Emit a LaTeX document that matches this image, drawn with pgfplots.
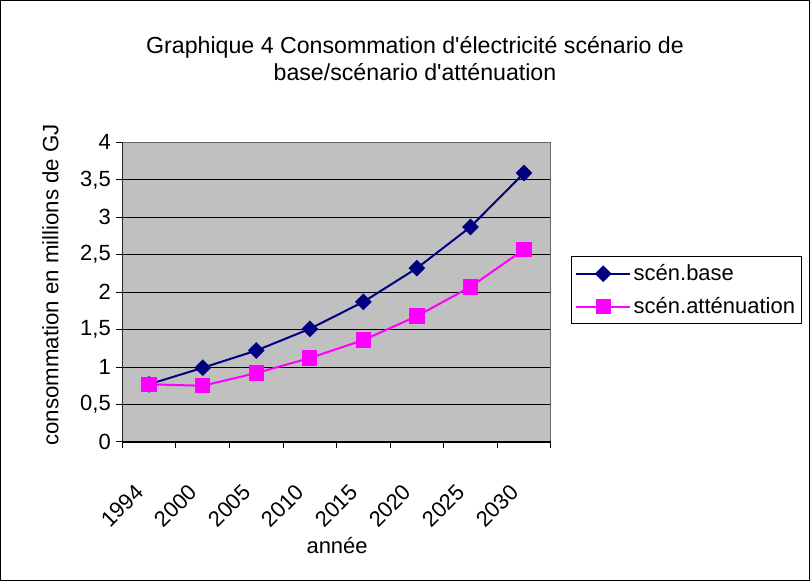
\documentclass[border=0pt]{standalone}
\usepackage{pgfplots}
\pgfplotsset{compat=1.18}
\usepackage{fontspec}
\setmainfont{Liberation Sans}
\definecolor{navyc}{HTML}{000080}
\definecolor{magc}{HTML}{FF00FF}
\definecolor{bgc}{HTML}{C0C0C0}
\begin{document}
\begin{tikzpicture}[x=1pt,y=1pt]
\draw[black, line width=0.75pt] (-91.5,-104.25) rectangle (516,331.5);
\begin{axis}[at={(0,0)}, anchor=south west, scale only axis,
 width=321.75pt, height=225pt,
 font=\fontsize{16.5}{19}\selectfont,
 xmin=-0.5, xmax=7.5, ymin=0, ymax=4,
 ytick={0,0.5,...,4},
 yticklabel style={/pgf/number format/use comma, /pgf/number format/assume math mode=true, inner sep=2pt, xshift=-2pt},
 /pgf/number format/assume math mode=true,
 xtick={0,...,7},
 xticklabels={1994,2000,2005,2010,2015,2020,2025,2030},
 minor xtick={-0.5,0.5,...,7.5},
 major x tick style={draw=none},
 minor x tick style={black, line width=0.75pt},
 y tick style={black, line width=0.75pt},
 tick align=outside, tick pos=left,
 major tick length=4.5pt, minor tick length=4.5pt,
 xticklabel style={rotate=45, anchor=north east, xshift=-25.5pt, yshift=-9.4pt, inner sep=1pt},
 ymajorgrids, grid style={black, line width=0.6pt},
 axis background/.style={fill=bgc},
 axis line style={draw=gray!80!black, line width=0.75pt},
 legend style={at={(1.0466,0.62)}, anchor=north west, draw=black, line width=0.75pt,
   font=\fontsize{16.5}{19}\selectfont, row sep=7pt, inner xsep=3pt, inner ysep=4pt, legend cell align=left,
   nodes={inner xsep=2pt}},
 legend image code/.code={%
   \draw[#1] (0cm,0cm) -- (1.42cm,0cm);
   \draw[#1, only marks] plot coordinates {(0.71cm,0cm)};},
]
\draw[black, line width=0.75pt] (axis cs:-0.5,0) -- (axis cs:-0.5,4);
\draw[black, line width=0.75pt] (axis cs:-0.5,0) -- (axis cs:7.5,0);
\addplot[color=navyc, line width=1.5pt, mark=square*, mark size=3.7pt, mark options={fill=navyc, rotate=45}]
 coordinates {(0,0.77) (1,0.99) (2,1.22) (3,1.51) (4,1.87) (5,2.32) (6,2.87) (7,3.59)};
\addlegendentry{scén.base}
\addplot[color=magc, line width=1.5pt, mark=square*, mark size=5pt, mark options={fill=magc}]
 coordinates {(0,0.77) (1,0.75) (2,0.92) (3,1.12) (4,1.36) (5,1.68) (6,2.07) (7,2.57)};
\addlegendentry{scén.atténuation}
\end{axis}
\node[align=center, font=\fontsize{17.4}{20.5}\selectfont] at (219.75,288) {Graphique 4 Consommation d\textquotesingle électricité scénario de\\base/scénario d\textquotesingle atténuation};
\node[rotate=90, font=\fontsize{16.7}{19}\selectfont] at (-54,118) {consommation en millions de GJ};
\node[font=\fontsize{16.5}{19}\selectfont] at (161.25,-78) {année};
\end{tikzpicture}
\end{document}
